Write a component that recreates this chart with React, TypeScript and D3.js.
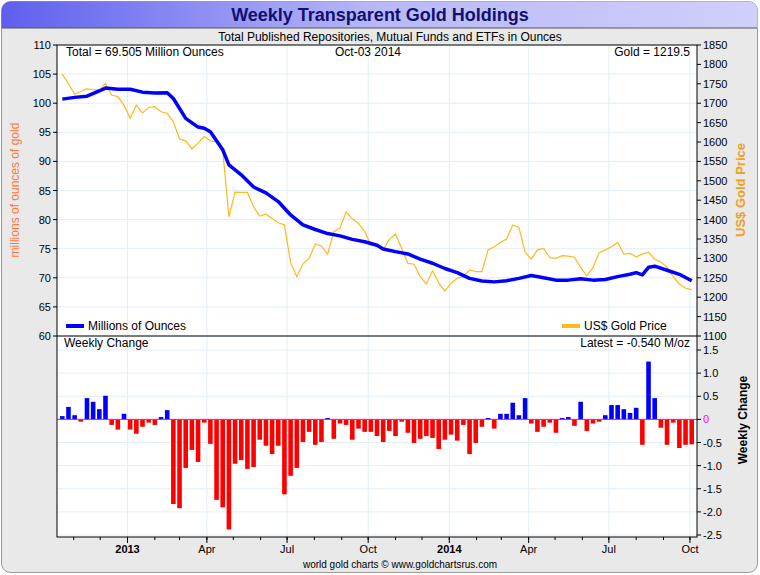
import * as React from 'react';
import { scaleLinear, scaleTime, line, range, timeMonth } from 'd3';

// weeks from first week (Oct 19 2012), weekly to Oct 03 2014
const startDate = new Date(2012, 9, 19);
const weekDate = (w: number) => new Date(startDate.getTime() + w * 7 * 864e5);

const holdWeeks = [0, 2, 4, 6, 7, 9, 11, 13, 15, 17, 18, 20, 22, 23, 24, 26, 27, 29, 31, 33, 35, 37, 39, 41, 43, 45, 47, 49, 51, 52, 54, 56, 58, 60, 62, 64, 66, 68, 70, 72, 74, 76, 78, 80, 82, 84, 86, 88, 90, 92, 93, 94, 95, 96, 98, 100, 102];
const holdings = [100.7, 101.0, 101.2, 102.1, 102.6, 102.4, 102.4, 101.9, 101.75, 101.8, 100.8, 97.4, 95.9, 95.7, 95.1, 92.0, 89.4, 87.7, 85.6, 84.6, 83.1, 80.8, 79.1, 78.3, 77.6, 77.2, 76.6, 76.2, 75.6, 74.95, 74.5, 74.1, 73.2, 72.5, 71.6, 70.9, 69.9, 69.45, 69.3, 69.5, 69.9, 70.4, 70.0, 69.6, 69.6, 69.85, 69.6, 69.7, 70.2, 70.6, 70.9, 70.5, 71.8, 72.0, 71.3, 70.6, 69.5];

const goldPrice = [1775, 1750, 1723, 1730, 1737, 1735, 1734, 1751, 1721, 1717, 1695, 1661, 1695, 1675, 1689, 1691, 1678, 1674, 1652, 1608,
  1603, 1582, 1597, 1614, 1603, 1600, 1579, 1407, 1471, 1470, 1470, 1433, 1409, 1414, 1403, 1392, 1386, 1289, 1253, 1286,
  1300, 1337, 1332, 1311, 1369, 1378, 1420, 1402, 1390, 1369, 1335, 1333, 1322, 1349, 1363, 1326, 1287, 1285, 1253, 1234,
  1268, 1237, 1216, 1236, 1249, 1253, 1270, 1266, 1266, 1322, 1330, 1341, 1350, 1386, 1380, 1316, 1298, 1322, 1326, 1302,
  1300, 1307, 1306, 1303, 1277, 1255, 1276, 1315, 1322, 1330, 1341, 1311, 1313, 1304, 1311, 1316, 1298, 1291, 1277, 1253,
  1234, 1223, 1219.5];

const weeklyChange = [0.07, 0.27, 0.09, -0.05, 0.46, 0.38, 0.22, 0.51, -0.12, -0.22, 0.12, -0.22, -0.31, -0.16, -0.07, -0.12, 0.05, 0.2, -1.83, -1.92,
  -1.05, -0.66, -0.92, -0.07, -0.53, -1.74, -1.9, -2.38, -0.96, -0.88, -1.07, -1.03, -0.44, -0.57, -0.75, -0.57, -1.62, -1.22, -1.05, -0.49,
  -0.27, -0.55, -0.49, 0.03, -0.42, -0.09, -0.12, -0.44, -0.2, -0.27, -0.27, -0.36, -0.49, -0.25, -0.36, -0.05, -0.29, -0.51, -0.42, -0.36,
  -0.4, -0.64, -0.44, -0.33, -0.46, -0.12, -0.75, -0.51, -0.16, 0.03, -0.2, 0.12, 0.12, 0.36, 0.09, 0.46, -0.09, -0.27, -0.16, -0.07,
  -0.29, 0.03, 0.05, -0.14, 0.38, -0.25, -0.09, -0.05, 0.09, 0.31, 0.31, 0.22, 0.14, 0.25, -0.55, 1.25, 0.46, -0.18, -0.55, -0.07,
  -0.62, -0.55, -0.54];

const leftTicks = range(60, 111, 5);
const rightTicks = range(1100, 1851, 50);
const changeTicks = [1.5, 1, 0.5, 0, -0.5, -1, -1.5, -2, -2.5];
const xTickLabels = [
  { d: new Date(2013, 0, 1), label: '2013', bold: true },
  { d: new Date(2013, 3, 1), label: 'Apr', bold: false },
  { d: new Date(2013, 6, 1), label: 'Jul', bold: false },
  { d: new Date(2013, 9, 1), label: 'Oct', bold: false },
  { d: new Date(2014, 0, 1), label: '2014', bold: true },
  { d: new Date(2014, 3, 1), label: 'Apr', bold: false },
  { d: new Date(2014, 6, 1), label: 'Jul', bold: false },
  { d: new Date(2014, 9, 1), label: 'Oct', bold: false },
];

const L = 57, R = 697, T1 = 45, B1 = 336, B2 = 537;
const font = '"Liberation Sans", Arial, sans-serif';

export default function App() {
  const x = scaleTime()
    .domain([new Date(startDate.getTime() - 6 * 864e5), new Date(2014, 9, 9)])
    .range([L, R]);
  const yL = scaleLinear().domain([60, 110]).range([B1, T1]);
  const yR = scaleLinear().domain([1100, 1850]).range([B1, T1]);
  const yC = scaleLinear().domain([-2.5, 1.5]).range([535, 350]);

  const holdLine = line<number>()
    .x((_, i) => x(weekDate(holdWeeks[i])))
    .y(v => yL(v));
  const goldLine = line<number>()
    .x((_, i) => x(weekDate(i)))
    .y(v => yR(v));

  const monthTicks = timeMonth.every(1)!.range(x.domain()[0], x.domain()[1]);

  return (
    <svg width={760} height={575} style={{ position: 'absolute', left: 0, top: 0, fontFamily: font }}>
      <defs>
        <linearGradient id="tb" x1="0" x2="1">
          <stop offset="0" stopColor="#5f5fee" />
          <stop offset="0.5" stopColor="#b8b8f8" />
          <stop offset="1" stopColor="#d0d0fb" />
        </linearGradient>
      </defs>
      <rect x={1.5} y={1.5} width={756} height={571} rx={9} fill="#e9e9e9" stroke="#999" />
      <path d="M1.5,28 V10.5 a9,9 0 0 1 9,-9 H748.5 a9,9 0 0 1 9,9 V28 Z" fill="url(#tb)" />
      <line x1={2} x2={757} y1={28} y2={28} stroke="#555" />
      <text x={380} y={21} textAnchor="middle" fontSize={18} fontWeight="bold" fill="#101070">Weekly Transparent Gold Holdings</text>
      <text x={390} y={41} textAnchor="middle" fontSize={12}>Total Published Repositories, Mutual Funds and ETFs in Ounces</text>

      <rect x={L} y={T1} width={R - L} height={B2 - T1} fill="#fff" />
      {/* grid */}
      {leftTicks.map(t => <line key={'g' + t} x1={L} x2={R} y1={yL(t)} y2={yL(t)} stroke="#e2eef8" />)}
      {changeTicks.map(t => <line key={'gc' + t} x1={L} x2={R} y1={yC(t)} y2={yC(t)} stroke="#e2eef8" />)}
      {xTickLabels.map(t => <line key={'gx' + t.d} x1={x(t.d)} x2={x(t.d)} y1={T1} y2={B2} stroke="#e2eef8" />)}

      {/* top lines */}
      <path d={goldLine(goldPrice)!} fill="none" stroke="#ffb820" strokeWidth={1.2} />
      <path d={holdLine(holdings)!} fill="none" stroke="#0000ff" strokeWidth={3.5} strokeLinejoin="round" />

      {/* bars */}
      {weeklyChange.map((v, i) => (
        <rect key={'b' + i} x={x(weekDate(i)) - 2.3} width={4.6}
          y={v >= 0 ? yC(v) : yC(0)} height={Math.abs(yC(v) - yC(0))}
          fill={v >= 0 ? '#0000ff' : '#ff0000'} />
      ))}
      <line x1={L} x2={R} y1={yC(0)} y2={yC(0)} stroke="#ff00ff" />

      {/* frames */}
      <rect x={L} y={T1} width={R - L} height={B2 - T1} fill="none" stroke="#000" />
      <line x1={L} x2={R} y1={B1} y2={B1} stroke="#000" />

      {/* left axis */}
      {leftTicks.map(t => (
        <g key={'l' + t}>
          <line x1={L - 4} x2={L} y1={yL(t)} y2={yL(t)} stroke="#000" />
          <text x={L - 6} y={yL(t) + 4} textAnchor="end" fontSize={11}>{t}</text>
        </g>
      ))}
      {/* right axis */}
      {rightTicks.map(t => (
        <g key={'r' + t}>
          <line x1={R} x2={R + 4} y1={yR(t)} y2={yR(t)} stroke="#000" />
          <text x={R + 6} y={yR(t) + 4} fontSize={11}>{t}</text>
        </g>
      ))}
      {changeTicks.map(t => (
        <g key={'c' + t}>
          <line x1={R} x2={R + 4} y1={yC(t)} y2={yC(t)} stroke="#000" />
          <text x={R + 6} y={yC(t) + 4} fontSize={11} fill={t === 0 ? '#ff00ff' : '#000'}>{t === 0 ? '0' : t.toFixed(1)}</text>
        </g>
      ))}
      {/* x axis */}
      {monthTicks.map(d => <line key={'m' + d} x1={x(d)} x2={x(d)} y1={B2} y2={B2 + 3} stroke="#000" />)}
      {xTickLabels.map(t => (
        <g key={'x' + t.d}>
          <line x1={x(t.d)} x2={x(t.d)} y1={B2} y2={B2 + 6} stroke="#000" />
          <text x={x(t.d)} y={B2 + 16} textAnchor="middle" fontSize={11} fontWeight={t.bold ? 'bold' : 'normal'}>{t.label}</text>
        </g>
      ))}

      {/* annotations */}
      <text x={66} y={56} fontSize={12}>Total = 69.505 Million Ounces</text>
      <text x={335} y={56} fontSize={12}>Oct-03  2014</text>
      <text x={690} y={56} fontSize={12} textAnchor="end">Gold = 1219.5</text>
      <text x={64} y={347} fontSize={12}>Weekly Change</text>
      <text x={690} y={347} fontSize={12} textAnchor="end">Latest = -0.540 M/oz</text>

      {/* legend */}
      <line x1={66} x2={84} y1={326} y2={326} stroke="#0000ff" strokeWidth={4} />
      <text x={88} y={330} fontSize={12}>Millions of Ounces</text>
      <line x1={562} x2={580} y1={326} y2={326} stroke="#ffb820" strokeWidth={4} />
      <text x={584} y={330} fontSize={12}>US$ Gold Price</text>

      {/* axis titles */}
      <text transform="translate(19,190) rotate(-90)" textAnchor="middle" fontSize={12} fill="#ff7840">millions of ounces of gold</text>
      <text transform="translate(745,190) rotate(-90)" textAnchor="middle" fontSize={13} fontWeight="bold" fill="#f0a020">US$ Gold Price</text>
      <text transform="translate(747,420) rotate(-90)" textAnchor="middle" fontSize={12} fontWeight="bold">Weekly Change</text>

      <text x={400} y={568} textAnchor="middle" fontSize={10}>world gold charts © www.goldchartsrus.com</text>
    </svg>
  );
}
